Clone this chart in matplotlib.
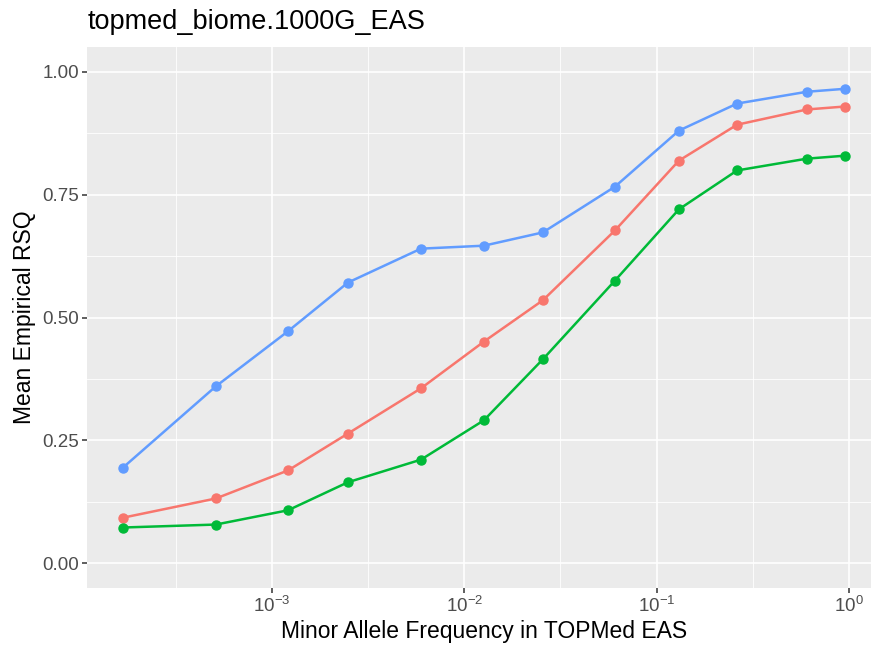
import matplotlib
matplotlib.use("Agg")
import matplotlib.pyplot as plt
import numpy as np

maf = [1.68e-4, 5.1e-4, 1.21e-3, 2.48e-3, 5.95e-3, 1.264e-2, 2.56e-2, 6.07e-2, 0.1306, 0.262, 0.605, 0.953]
rsq_blue = [0.195, 0.360, 0.472, 0.571, 0.640, 0.646, 0.673, 0.766, 0.880, 0.935, 0.959, 0.965]
rsq_red = [0.093, 0.132, 0.189, 0.264, 0.356, 0.451, 0.535, 0.677, 0.819, 0.892, 0.923, 0.929]
rsq_green = [0.073, 0.079, 0.108, 0.165, 0.211, 0.291, 0.415, 0.575, 0.720, 0.799, 0.823, 0.829]
series = [("red", rsq_red, "#F8766D"), ("green", rsq_green, "#00BA38"), ("blue", rsq_blue, "#619CFF")]
yticks = [0.0, 0.25, 0.5, 0.75, 1.0]
ytick_labels = ["0.00", "0.25", "0.50", "0.75", "1.00"]
xticks = [1e-3, 1e-2, 1e-1, 1e0]
xtick_labels = [r"$10^{-3}$", r"$10^{-2}$", r"$10^{-1}$", r"$10^{0}$"]

plt.rcParams['font.family'] = ['Liberation Sans', 'DejaVu Sans']
plt.rcParams['mathtext.fontset'] = 'custom'
plt.rcParams['mathtext.rm'] = 'Liberation Sans'
plt.rcParams['mathtext.it'] = 'Liberation Sans'

fig = plt.figure(figsize=(8.71, 6.46), dpi=100)
left = 87 / 871
right = 881 / 871
bottom = 1 - 588 / 646
top = 1 - 47 / 646
ax = fig.add_axes([left, bottom, right - left, top - bottom])
ax.set_facecolor("#EBEBEB")
ax.set_xscale("log")

lx = np.log10(maf)
span = lx.max() - lx.min()
ax.set_xlim(10 ** (lx.min() - 0.05 * span), 10 ** (lx.max() + 0.05 * span))
ax.set_ylim(-0.05, 1.05)

# grid
for v in [10 ** -3.5, 10 ** -2.5, 10 ** -1.5, 10 ** -0.5]:
    ax.axvline(v, color="white", lw=0.6, zorder=0)
for v in xticks:
    ax.axvline(v, color="white", lw=1.2, zorder=0)
for v in [0.125, 0.375, 0.625, 0.875]:
    ax.axhline(v, color="white", lw=0.6, zorder=0)
for v in yticks:
    ax.axhline(v, color="white", lw=1.2, zorder=0)

for name, ys, c in series:
    ax.plot(maf, ys, color=c, lw=1.8, marker="o", ms=6.5, mec=c, mfc=c, zorder=3)

ax.set_xticks(xticks)
ax.set_xticklabels(xtick_labels)
ax.xaxis.set_minor_locator(matplotlib.ticker.NullLocator())
ax.set_yticks(yticks)
ax.set_yticklabels(ytick_labels)
ax.tick_params(axis="both", length=3.5, width=1.1, color="#333333", labelcolor="#4D4D4D", labelsize=13.5, pad=2)
for s in ax.spines.values():
    s.set_visible(False)

ax.set_xlabel("Minor Allele Frequency in TOPMed EAS", fontsize=16.5, color="black", labelpad=3)
ax.set_ylabel("Mean Empirical RSQ", fontsize=16.5, color="black", labelpad=5)
fig.text(left + 1 / 871, 1 - 22 / 646, "topmed_biome.1000G_EAS", fontsize=19.5, ha="left", va="center", color="black")

fig.savefig("out.png", dpi=100, facecolor="white")
